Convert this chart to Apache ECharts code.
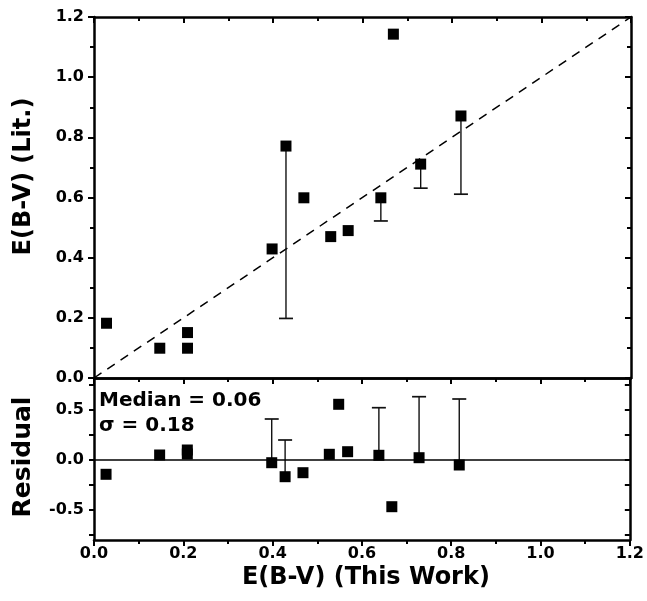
<!DOCTYPE html>
<html><head><meta charset="utf-8">
<script src="https://cdn.jsdelivr.net/npm/echarts@6/dist/echarts.min.js"></script>
<style>html,body{margin:0;padding:0;background:#fff}#c{width:647px;height:601px}</style>
</head><body><div id="c"></div>
<script>
// ---- data ----
const litX = [0.028, 0.147, 0.209, 0.209, 0.398, 0.429, 0.469, 0.529, 0.568, 0.641, 0.669, 0.730, 0.820];
const litY = [0.182, 0.099, 0.151, 0.099, 0.429, 0.771, 0.599, 0.470, 0.490, 0.599, 1.143, 0.711, 0.871];
const litErrX = [0.429, 0.641, 0.730, 0.820];
const litErrY = [0.771, 0.599, 0.711, 0.871];
const litErrEnd = [0.198, 0.522, 0.631, 0.611];
const resX = [0.027, 0.147, 0.209, 0.209, 0.398, 0.428, 0.468, 0.527, 0.548, 0.568, 0.638, 0.667, 0.728, 0.818];
const resY = [-0.143, 0.050, 0.100, 0.060, -0.027, -0.167, -0.127, 0.057, 0.557, 0.083, 0.047, -0.467, 0.023, -0.050];
const resErrX = [0.398, 0.428, 0.638, 0.728, 0.818];
const resErrY = [-0.027, -0.167, 0.047, 0.023, -0.050];
const resErrEnd = [0.410, 0.200, 0.523, 0.633, 0.610];
const oneToOne = [0, 1.2];
const resLabelVals = [-0.5, 0, 0.5];
const resTickVals = [-0.75, -0.5, -0.25, 0, 0.25, 0.5, 0.75];
const medianText = 'Median = 0.06';
const sigmaText = '\u03c3 = 0.18';

const FONT = 'DejaVu Sans';
const AX = {color: '#000', width: 2.5};
const zip = (a, b) => a.map((v, i) => [v, b[i]]);
const zip3 = (a, b, c) => a.map((v, i) => [v, b[i], c[i]]);

function errRender(params, api) {
  const x = api.value(0), y0 = api.value(1), y1 = api.value(2);
  const p0 = api.coord([x, y0]), p1 = api.coord([x, y1]);
  const cap = 7;
  return {type: 'group', children: [
    {type: 'line', shape: {x1: p0[0], y1: p0[1], x2: p1[0], y2: p1[1]}, style: {stroke: '#111', lineWidth: 1.4}},
    {type: 'line', shape: {x1: p1[0] - cap, y1: p1[1], x2: p1[0] + cap, y2: p1[1]}, style: {stroke: '#111', lineWidth: 1.7}}
  ]};
}

const lbl = {fontFamily: FONT, fontWeight: 'bold', fontSize: 16, color: '#000'};
function xAx(grid, pos, opts) {
  return Object.assign({
    type: 'value', gridIndex: grid, position: pos, min: 0, max: 1.2, interval: 0.2,
    axisLine: {show: true, onZero: false, lineStyle: AX},
    axisTick: {show: true, inside: pos === 'top', length: 6, lineStyle: {color: '#000', width: 2}},
    minorTick: {show: true, splitNumber: 2, length: 4, lineStyle: {color: '#000', width: 2}},
    axisLabel: {show: false},
    splitLine: {show: false}
  }, opts);
}

const chart = echarts.init(document.getElementById('c'));
chart.setOption({
  backgroundColor: '#fff',
  animation: false,
  grid: [
    {left: 94, top: 17, width: 537, height: 361},
    {left: 94, top: 378, width: 537, height: 162}
  ],
  xAxis: [
    xAx(0, 'bottom', {axisTick: {show: false}, minorTick: {show: false}}),
    xAx(0, 'top', {}),
    xAx(1, 'bottom', {
      axisLabel: Object.assign({show: true, margin: 6, formatter: v => v.toFixed(1)}, lbl),
      name: 'E(B-V) (This Work)', nameLocation: 'middle', nameGap: 26,
      nameTextStyle: {fontFamily: FONT, fontWeight: 'bold', fontSize: 24, color: '#000', padding: [0, 0, 0, 8]}
    }),
    xAx(1, 'top', {})
  ],
  yAxis: [
    {
      type: 'value', gridIndex: 0, position: 'left', min: 0, max: 1.2, interval: 0.2,
      axisLine: {show: true, onZero: false, lineStyle: AX},
      axisTick: {show: true, inside: false, length: 6, lineStyle: {color: '#000', width: 2}},
      minorTick: {show: true, splitNumber: 2, length: 4, lineStyle: {color: '#000', width: 2}},
      axisLabel: Object.assign({show: true, margin: 10, formatter: v => v.toFixed(1)}, lbl),
      splitLine: {show: false},
      name: 'E(B-V) (Lit.)', nameLocation: 'middle', nameGap: 58, nameRotate: 90,
      nameTextStyle: {fontFamily: FONT, fontWeight: 'bold', fontSize: 24, color: '#000', padding: [0, 0, 0, 42]}
    },
    {
      type: 'value', gridIndex: 0, position: 'right', min: 0, max: 1.2, interval: 0.2,
      axisLine: {show: true, onZero: false, lineStyle: AX},
      axisTick: {show: true, inside: true, length: 6, lineStyle: {color: '#000', width: 2}},
      minorTick: {show: true, splitNumber: 2, length: 4, lineStyle: {color: '#000', width: 2}},
      axisLabel: {show: false}, splitLine: {show: false}
    },
    {
      type: 'value', gridIndex: 1, position: 'left', min: -0.8, max: 0.82,
      axisLine: {show: true, onZero: false, lineStyle: AX},
      axisTick: {show: true, inside: false, length: 5, customValues: resTickVals, lineStyle: {color: '#000', width: 2}},
      axisLabel: Object.assign({show: true, margin: 10, customValues: resLabelVals, formatter: v => v.toFixed(1)}, lbl),
      splitLine: {show: false},
      name: 'Residual', nameLocation: 'middle', nameGap: 58, nameRotate: 90,
      nameTextStyle: {fontFamily: FONT, fontWeight: 'bold', fontSize: 25, color: '#000', padding: [0, 0, 0, 4]}
    },
    {
      type: 'value', gridIndex: 1, position: 'right', min: -0.8, max: 0.82,
      axisLine: {show: true, onZero: false, lineStyle: AX},
      axisTick: {show: true, inside: true, length: 5, customValues: resTickVals, lineStyle: {color: '#000', width: 2}},
      axisLabel: {show: false}, splitLine: {show: false}
    }
  ],
  graphic: [
    {type: 'text', left: 99, top: 391, style: {text: medianText, font: 'bold 20px "DejaVu Sans"', fill: '#000'}},
    {type: 'text', left: 99, top: 416, style: {text: sigmaText, font: 'bold 20px "DejaVu Sans"', fill: '#000'}}
  ],
  series: [
    {
      type: 'line', xAxisIndex: 0, yAxisIndex: 0, data: zip(oneToOne, oneToOne),
      symbol: 'none', lineStyle: {color: '#000', width: 1.5, type: [9, 7]}, silent: true, z: 1
    },
    {
      type: 'custom', xAxisIndex: 0, yAxisIndex: 0, data: zip3(litErrX, litErrY, litErrEnd),
      renderItem: errRender, z: 2
    },
    {
      type: 'scatter', xAxisIndex: 0, yAxisIndex: 0, data: zip(litX, litY),
      symbol: 'rect', symbolSize: 11, itemStyle: {color: '#000', opacity: 1}, z: 3
    },
    {
      type: 'custom', xAxisIndex: 2, yAxisIndex: 2, data: zip3(resErrX, resErrY, resErrEnd),
      renderItem: errRender, z: 2
    },
    {
      type: 'scatter', xAxisIndex: 2, yAxisIndex: 2, data: zip(resX, resY),
      symbol: 'rect', symbolSize: 11, itemStyle: {color: '#000', opacity: 1}, z: 3,
      markLine: {
        silent: true, symbol: 'none', label: {show: false},
        lineStyle: {color: '#000', width: 1.5, type: 'solid'},
        data: [{yAxis: 0}]
      }
    }
  ]
});
</script>
</body></html>
